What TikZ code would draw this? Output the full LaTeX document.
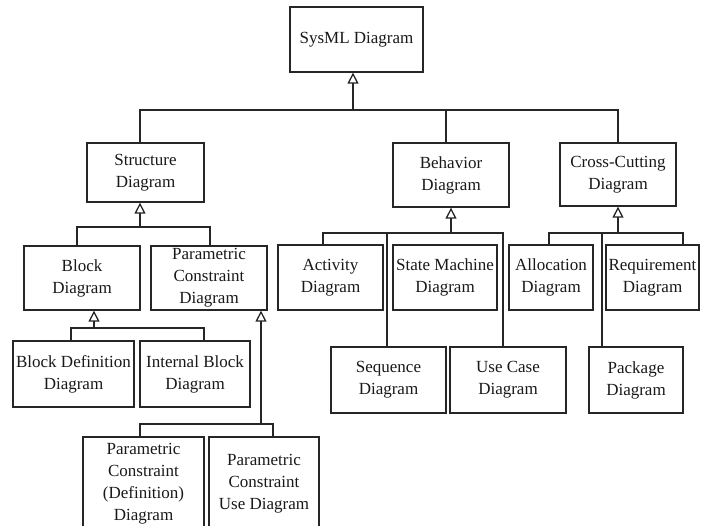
\documentclass[tikz,border=0pt]{standalone}
\usepackage{fontspec}
\setmainfont{Liberation Serif}
\usetikzlibrary{arrows.meta}
\begin{document}
\begin{tikzpicture}[x=1pt,y=-1pt,
  box/.style={draw=black!85, line width=1.3pt, align=center, inner sep=0pt,
    font=\fontsize{17}{22}\selectfont, text=black!90},
  ln/.style={draw=black!85, line width=1.3pt, line cap=rect},
  gen/.style={draw=black!85, line width=1.3pt,
    -{Triangle[open, width=11pt, length=11pt, line width=1.3pt]}}]
\useasboundingbox (0,0) rectangle (712,526);
\clip (0,0) rectangle (712,526);
\fill[white] (0,0) rectangle (712,526);
% boxes
\node[box, minimum width=133pt, minimum height=65pt] (sysml) at (356.5,39.5) {SysML Diagram};
\node[box, minimum width=117pt, minimum height=59pt] (structure) at (145.5,172.5) {Structure\\Diagram};
\node[box, minimum width=116pt, minimum height=64pt] (behavior) at (451,175) {Behavior\\Diagram};
\node[box, minimum width=116pt, minimum height=63pt] (crosscut) at (618,174.5) {Cross-Cutting\\Diagram};
\node[box, minimum width=116pt, minimum height=64pt] (block) at (82,278) {Block\\Diagram};
\node[box, minimum width=116pt, minimum height=64pt] (param) at (209,278) {Parametric\\Constraint\\Diagram};
\node[box, minimum width=121pt, minimum height=66pt] (bdd) at (73.5,374) {Block Definition\\Diagram};
\node[box, minimum width=110pt, minimum height=66pt] (ibd) at (195,374) {Internal Block\\Diagram};
\node[box, minimum width=121pt, minimum height=94pt] (pcdef) at (143.5,484) {Parametric\\Constraint\\(Definition)\\Diagram};
\node[box, minimum width=110pt, minimum height=94pt] (pcuse) at (264,484) {Parametric\\Constraint\\Use Diagram};
\node[box, minimum width=105pt, minimum height=65pt] (activity) at (330.5,277.5) {Activity\\Diagram};
\node[box, minimum width=104pt, minimum height=65pt] (statemachine) at (445,277.5) {State Machine\\Diagram};
\node[box, minimum width=115pt, minimum height=66pt] (sequence) at (388.5,380) {Sequence\\Diagram};
\node[box, minimum width=116pt, minimum height=66pt] (usecase) at (508,380) {Use Case\\Diagram};
\node[box, minimum width=84pt, minimum height=65pt] (allocation) at (551,277.5) {Allocation\\Diagram};
\node[box, minimum width=93pt, minimum height=65pt] (requirement) at (652.5,277.5) {Requirement\\Diagram};
\node[box, minimum width=94pt, minimum height=66pt] (package) at (636,380) {Package\\Diagram};
% top level
\coordinate (t0) at (353,110);
\coordinate (t1) at (140,110);
\coordinate (t2) at (446,110);
\coordinate (t3) at (618,110);
\draw[ln] (t1) -- (t3);
\draw[gen] (t0) -- (sysml.south -| t0);
\draw[ln] (t1) -- (structure.north -| t1);
\draw[ln] (t2) -- (behavior.north -| t2);
\draw[ln] (t3) -- (crosscut.north -| t3);
% structure
\coordinate (s0) at (140,227);
\coordinate (s1) at (77,227);
\coordinate (s2) at (210,227);
\draw[ln] (s1) -- (s2);
\draw[gen] (s0) -- (structure.south -| s0);
\draw[ln] (s1) -- (block.north -| s1);
\draw[ln] (s2) -- (param.north -| s2);
% block
\coordinate (b0) at (94,328);
\coordinate (b1) at (71,328);
\coordinate (b2) at (204,328);
\draw[ln] (b1) -- (b2);
\draw[gen] (b0) -- (block.south -| b0);
\draw[ln] (b1) -- (bdd.north -| b1);
\draw[ln] (b2) -- (ibd.north -| b2);
% parametric
\coordinate (p0) at (261,424);
\coordinate (p1) at (140,424);
\coordinate (p2) at (273,424);
\draw[ln] (p1) -- (p2);
\draw[gen] (p0) -- (param.south -| p0);
\draw[ln] (p1) -- (pcdef.north -| p1);
\draw[ln] (p2) -- (pcuse.north -| p2);
% behavior
\coordinate (h0) at (451,233);
\coordinate (h1) at (323,233);
\coordinate (h2) at (387,233);
\coordinate (h3) at (503,233);
\draw[ln] (h1) -- (h3);
\draw[gen] (h0) -- (behavior.south -| h0);
\draw[ln] (h1) -- (activity.north -| h1);
\draw[ln] (h2) -- (sequence.north -| h2);
\draw[ln] (h3) -- (usecase.north -| h3);
% cross-cutting
\coordinate (c0) at (618,233);
\coordinate (c1) at (549,233);
\coordinate (c2) at (602,233);
\coordinate (c3) at (683,233);
\draw[ln] (c1) -- (c3);
\draw[gen] (c0) -- (crosscut.south -| c0);
\draw[ln] (c1) -- (allocation.north -| c1);
\draw[ln] (c2) -- (package.north -| c2);
\draw[ln] (c3) -- (requirement.north -| c3);
\end{tikzpicture}
\end{document}
